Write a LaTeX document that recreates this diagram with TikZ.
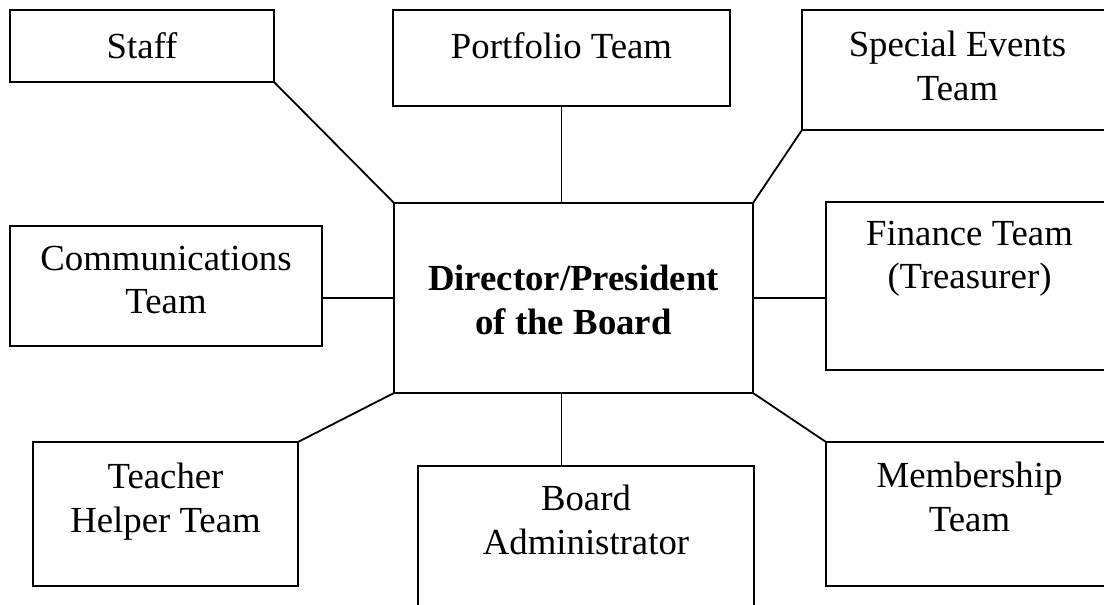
\documentclass[tikz,border=0pt]{standalone}
\usepackage{fontspec}
\setmainfont{Liberation Serif}
\usetikzlibrary{positioning,calc}

\tikzset{
  frame/.style={draw, line width=1.8bp, anchor=north west, inner sep=0pt, outer sep=0pt},
  lbl/.style={anchor=north, align=center, inner sep=0pt, font=\fontsize{36.9}{43.6}\selectfont},
  link/.style={line width=1.8bp},
}

\begin{document}
\begin{tikzpicture}[x=1bp, y=-1bp]
	\useasboundingbox (0,0) rectangle (1104,605);
	% frames
	\node[frame, minimum width=264bp, minimum height=72bp] (staff) at (10,10) {};
	\node[frame, minimum width=337bp, minimum height=96bp] (portfolio) at (393,10) {};
	\node[frame, minimum width=311bp, minimum height=120bp] (events) at (802,10) {};
	\node[frame, minimum width=312bp, minimum height=120bp] (comms) at (10,226) {};
	\node[frame, minimum width=359bp, minimum height=190bp] (director) at (394,203) {};
	\node[frame, minimum width=287bp, minimum height=168bp] (finance) at (826,202) {};
	\node[frame, minimum width=265bp, minimum height=144bp] (teacher) at (33,442) {};
	\node[frame, minimum width=336bp, minimum height=150bp] (admin) at (418,466) {};
	\node[frame, minimum width=287bp, minimum height=144bp] (members) at (826,442) {};
	% texts
	\node[lbl, below=22bp of staff.north] (staff-t) {Staff};
	\node[lbl, below=22bp of portfolio.north] (portfolio-t) {Portfolio Team};
	\node[lbl, below=21bp of events.north] (events-t) {Special Events\\Team};
	\node[lbl, below=20bp of comms.north] (comms-t) {Communications\\Team};
	\node[lbl, below=62bp of director.north, font=\fontsize{36.9}{43.6}\selectfont\bfseries] (director-t) {Director/President\\of the Board};
	\node[lbl, below=19bp of finance.north] (finance-t) {Finance Team\\(Treasurer)};
	\node[lbl, below=21bp of teacher.north] (teacher-t) {Teacher\\Helper Team};
	\node[lbl, below=19bp of admin.north] (admin-t) {Board\\Administrator};
	\node[lbl, below=20bp of members.north] (members-t) {Membership\\Team};
	% links
	\draw[link] (staff.south east) -- (director.north west);
	\draw[link] (portfolio.south) -- (portfolio.south |- director.north);
	\draw[link] (events.south west) -- (director.north east);
	\draw[link] (director.west) -- (director.west -| comms.east);
	\draw[link] (director.east) -- (director.east -| finance.west);
	\draw[link] (teacher.north east) -- (director.south west);
	\draw[link] (portfolio.south |- director.south) -- (portfolio.south |- admin.north);
	\draw[link] (members.north west) -- (director.south east);
\end{tikzpicture}
\end{document}
